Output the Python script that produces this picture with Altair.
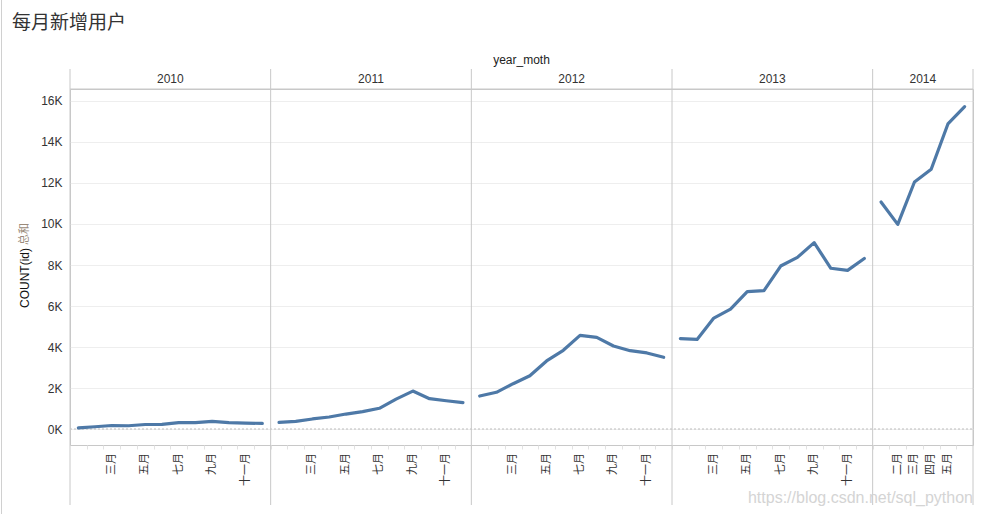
import altair as alt
import pandas as pd

# ---------------- data ----------------
years = [2010, 2011, 2012, 2013, 2014]
month_names = ["一月", "二月", "三月", "四月", "五月", "六月",
               "七月", "八月", "九月", "十月", "十一月", "十二月"]

values_2010 = [60, 110, 170, 160, 220, 230, 310, 310, 370, 310, 290, 270]
values_2011 = [325, 375, 490, 585, 730, 845, 1010, 1460, 1850, 1480, 1380, 1285]
values_2012 = [1610, 1790, 2210, 2600, 3320, 3840, 4570, 4470, 4050, 3820, 3710, 3500]
values_2013 = [4410, 4370, 5410, 5850, 6700, 6750, 7950, 8370, 9090, 7840, 7740, 8320]
values_2014 = [11070, 9980, 12050, 12670, 14880, 15720]

series = {2010: values_2010, 2011: values_2011, 2012: values_2012,
          2013: values_2013, 2014: values_2014}

# months whose label is shown on the x axis (per year)
labeled_months = {2010: [3, 5, 7, 9, 11], 2011: [3, 5, 7, 9, 11],
                  2012: [3, 5, 7, 9, 11], 2013: [3, 5, 7, 9, 11],
                  2014: [2, 3, 4, 5]}

title_text = "每月新增用户"
header_text = "year_moth"
y_title_main = "COUNT(id)"
y_title_agg = "总和"
y_ticks = [0, 2000, 4000, 6000, 8000, 10000, 12000, 14000, 16000]
watermark = "https://blog.csdn.net/sql_python"

# ---------------- tables ----------------
rows = []
panels = []
slot = 0
for yr in years:
    start = slot
    for m, v in enumerate(series[yr], 1):
        rows.append({"year": str(yr), "month": m, "name": month_names[m - 1],
                     "slot": slot + 0.5, "users": v,
                     "show": m in labeled_months[yr]})
        slot += 1
    panels.append({"year": str(yr), "start": start, "end": slot,
                   "center": (start + slot) / 2})
n_slots = slot
df = pd.DataFrame(rows)
df_panels = pd.DataFrame(panels)
df_edges = pd.DataFrame({"edge": [p["start"] for p in panels] + [n_slots]})
df_labels = df[df["show"]]

W, H = 903, 356
xscale = alt.Scale(domain=[0, n_slots], nice=False, zero=False)
yscale = alt.Scale(domain=[-780, 16585], nice=False, zero=False)

BORDER = "#c8c8c8"
TEXT = "#333333"

x_axis = alt.Axis(values=list(range(1, n_slots)), labels=False,
                  ticks=True, tickSize=4, tickColor="#e2e2e2",
                  domain=False, grid=False, title=None)
y_axis = alt.Axis(values=y_ticks, labelExpr="datum.value / 1000 + 'K'",
                  ticks=False, domain=False, labelPadding=8,
                  labelFontSize=12, labelColor=TEXT,
                  labelFont="Liberation Sans",
                  gridColor="#eeeeee", title=None)

line = alt.Chart(df).mark_line(color="#4e79a7", strokeWidth=3.2,
                               strokeCap="round", strokeJoin="round").encode(
    x=alt.X("slot:Q", scale=xscale, axis=x_axis),
    y=alt.Y("users:Q", scale=yscale, axis=y_axis),
    detail="year:N",
)

zero = alt.Chart(pd.DataFrame({"v": [0]})).mark_rule(
    color="#bdbdbd", strokeDash=[2, 2], strokeWidth=1).encode(
    y=alt.Y("v:Q", scale=yscale, axis=y_axis),
    x=alt.value(0), x2=alt.value(W),
)

dividers = alt.Chart(df_edges).mark_rule(color=BORDER, strokeWidth=1).encode(
    x=alt.X("edge:Q", scale=xscale, axis=x_axis),
    y=alt.value(-20), y2=alt.value(416),
)

header_line = alt.Chart(pd.DataFrame({"a": [0]})).mark_rule(
    color=BORDER, strokeWidth=1).encode(
    x=alt.value(0), x2=alt.value(W), y=alt.value(0),
)

left_edge = alt.Chart(pd.DataFrame({"a": [0]})).mark_rule(
    color="#d0d0d0", strokeWidth=1).encode(
    x=alt.value(-68.5), y=alt.value(-89), y2=alt.value(H + 69),
)

year_headers = alt.Chart(df_panels).mark_text(
    fontSize=12, color=TEXT, font="Liberation Sans", baseline="middle").encode(
    x=alt.X("center:Q", scale=xscale, axis=x_axis),
    y=alt.value(-10),
    text="year:N",
)

month_labels = alt.Chart(df_labels).mark_text(
    fontSize=11, color=TEXT, font="Noto Sans CJK SC", angle=270,
    align="right", baseline="middle").encode(
    x=alt.X("slot:Q", scale=xscale, axis=x_axis),
    y=alt.value(H + 8),
    text="name:N",
)

def static_text(txt, x, y, **kw):
    return alt.Chart(pd.DataFrame({"t": [txt]})).mark_text(**kw).encode(
        x=alt.value(x), y=alt.value(y), text="t:N")

title = static_text(title_text, -58, -66, fontSize=19, color=TEXT,
                    font="Noto Sans CJK SC", align="left", baseline="middle")
header = static_text(header_text, W / 2, -29, fontSize=12, color="#222222",
                     font="Liberation Sans", align="center", baseline="middle")
ytitle1 = static_text(y_title_main, -45, 219, fontSize=12, color="#111111",
                      font="Liberation Sans", angle=270, align="left",
                      baseline="middle")
ytitle2 = static_text(y_title_agg, -45, 156, fontSize=11, color="#9a8a7a",
                      font="Noto Sans CJK SC", angle=270, align="left",
                      baseline="middle")
wm = static_text(watermark, W, 414, fontSize=16, color="#d4d4d4",
                 font="Liberation Sans", align="right", baseline="alphabetic")

chart = alt.layer(
    left_edge, zero, line, dividers, header_line, year_headers, month_labels,
    title, header, ytitle1, ytitle2, wm,
).properties(
    width=W, height=H, autosize="none",
    padding={"left": 70, "top": 89, "right": 9, "bottom": 69},
).configure_view(stroke=BORDER, strokeWidth=1)

chart.save("out.html", embed_options={"renderer": "svg", "actions": False})
